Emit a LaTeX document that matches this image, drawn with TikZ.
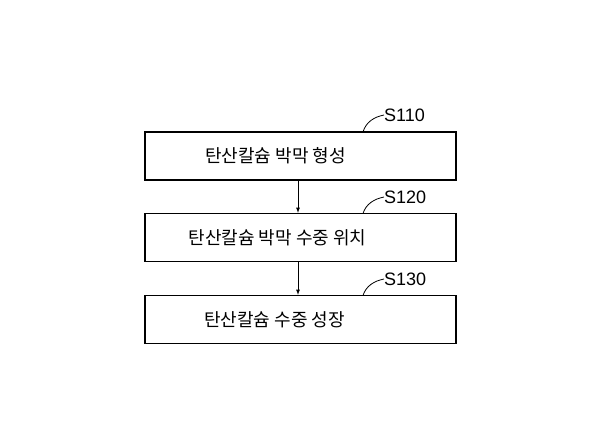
\documentclass[tikz,border=0pt]{standalone}
\usepackage{fontspec}
\setmainfont{Liberation Sans}
\newfontfamily\kr{Noto Sans CJK KR}
\begin{document}
\begin{tikzpicture}[x=1pt,y=-1pt,
  stepbox/.style={draw,line width=1.3pt,minimum width=311pt,minimum height=48pt,inner sep=0pt,font=\kr\fontsize{18}{21}\selectfont},
  lab/.style={font=\fontsize{18}{21}\selectfont,anchor=west,inner sep=0pt},
  lead/.style={line width=0.8pt},
  arr/.style={-latex,line width=0.8pt}]
\useasboundingbox (0,0) rectangle (600,444);
\node[stepbox] (b1) at (300.5,156) {\hspace*{-50pt}탄산칼슘 박막 형성};
\node[stepbox] (b2) at (300.5,237.5) {\hspace*{-46pt}탄산칼슘 박막 수중 위치};
\node[stepbox] (b3) at (300.5,319.5) {\hspace*{-52pt}탄산칼슘 수중 성장};
\node[lab] (l1) at (384,115) {S110};
\node[lab] (l2) at (384,197) {S120};
\node[lab] (l3) at (384,279) {S130};
\coordinate (c1) at (363,132);
\coordinate (c2) at (363,213.5);
\coordinate (c3) at (363,295.5);
\draw[lead] (c1) .. controls (366,122) and (374,117) .. (l1.west);
\draw[lead] (c2) .. controls (366,204) and (374,199) .. (l2.west);
\draw[lead] (c3) .. controls (366,286) and (374,281) .. (l3.west);
\draw[arr] (b1.south -| 298,0) -- (b2.north -| 298,0);
\draw[arr] (b2.south -| 298,0) -- (b3.north -| 298,0);
\end{tikzpicture}
\end{document}
